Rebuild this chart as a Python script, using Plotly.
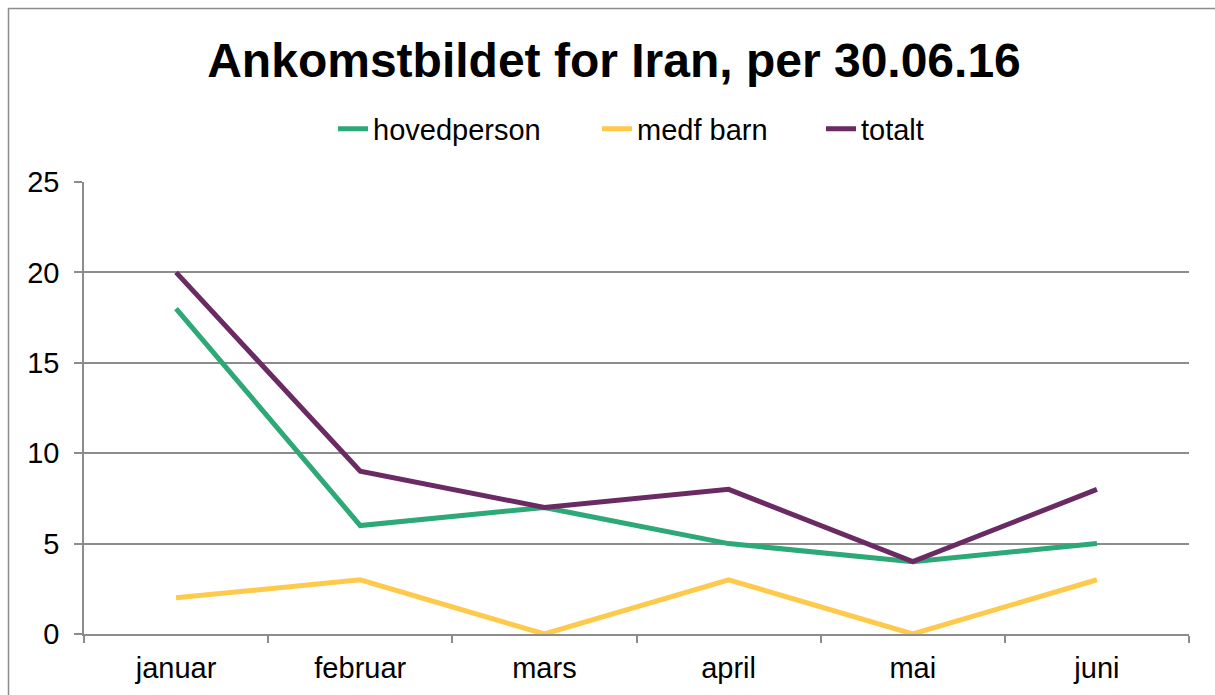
import plotly.graph_objects as go

months = ["januar", "februar", "mars", "april", "mai", "juni"]
hovedperson = [18, 6, 7, 5, 4, 5]
medf_barn = [2, 3, 0, 3, 0, 3]
totalt = [20, 9, 7, 8, 4, 8]
y_ticks = [0, 5, 10, 15, 20, 25]

series = [
    ("hovedperson", hovedperson, "#2DA877", "legend", 333),
    ("medf barn", medf_barn, "#FFC94B", "legend2", 597),
    ("totalt", totalt, "#6A2A63", "legend3", 821),
]

FONT = "Liberation Sans, Arial, sans-serif"
GRID = "#8C8C8C"

W, H = 1215, 695
L, R, T, B = 84, 1215 - 1189, 182, 695 - 634
pw, ph = W - L - R, H - T - B

fig = go.Figure()
legends = {}
for name, vals, col, leg, left_px in series:
    fig.add_trace(go.Scatter(x=months, y=vals, name=name, mode="lines",
                             legend=leg, showlegend=True,
                             line=dict(color=col, width=5)))
    legends[leg] = dict(orientation="h", x=(left_px - L) / pw, xanchor="left",
                        y=(634 - 129) / ph, yanchor="middle",
                        font=dict(size=29, family=FONT),
                        bgcolor="rgba(0,0,0,0)")

fig.update_layout(
    width=W, height=H,
    showlegend=True,
    margin=dict(l=L, r=R, t=T, b=B),
    paper_bgcolor="white", plot_bgcolor="white",
    font=dict(family=FONT, color="black", size=29),
    title=dict(text="<b>Ankomstbildet for Iran, per 30.06.16</b>",
               x=(614 - L) / pw, xref="paper", xanchor="center",
               y=1 - 60 / H, yref="container", yanchor="middle",
               font=dict(size=48, family=FONT, color="black")),
    xaxis=dict(type="category", range=[-0.5, 5.5], tickson="boundaries",
               ticks="outside", ticklen=7, tickcolor=GRID, tickwidth=1.5,
               showline=True, linecolor=GRID, linewidth=1.5,
               showgrid=False, ticklabelstandoff=7,
               tickfont=dict(size=29, family=FONT)),
    yaxis=dict(range=[0, 25], tickvals=y_ticks, ticks="outside", ticklen=8,
               tickcolor=GRID, tickwidth=1.5, showline=True, linecolor=GRID,
               linewidth=1.5, showgrid=True, gridcolor=GRID, gridwidth=1.5,
               zeroline=False, ticklabelstandoff=9,
               tickfont=dict(size=29, family=FONT)),
    shapes=[dict(type="rect", xref="paper", yref="paper",
                 x0=(8.5 - L) / pw, x1=1.2, y0=-0.5, y1=(634 - 8.5) / ph,
                 line=dict(color=GRID, width=1.5), layer="below")],
    **legends,
)

fig.write_html("out.html", config={"displayModeBar": False},
               post_script="document.body.style.margin='0';")
